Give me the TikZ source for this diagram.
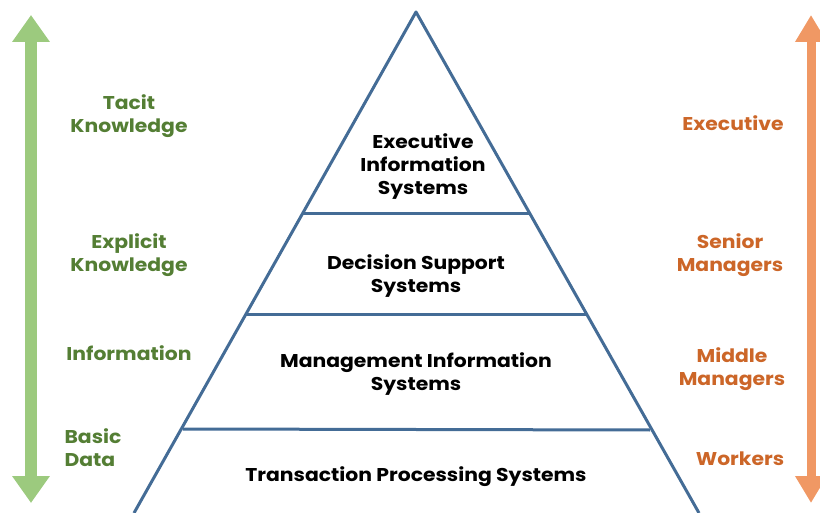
\documentclass[tikz,border=0pt]{standalone}
\usepackage{fontspec}
\setmainfont{Poppins}[FakeStretch=1.1]
\usetikzlibrary{arrows.meta}

\definecolor{edgeblue}{RGB}{68,108,150}
\definecolor{lightgreen}{RGB}{156,202,126}
\definecolor{darkgreen}{RGB}{84,126,52}
\definecolor{lightorange}{RGB}{240,152,100}
\definecolor{darkorange}{RGB}{204,102,40}

\tikzset{
    layer/.style={font=\fontsize{18.5}{23}\selectfont\bfseries, text=black, align=center},
    leftlabel/.style={font=\fontsize{18.5}{23}\selectfont\bfseries, text=darkgreen, align=center},
    rightlabel/.style={font=\fontsize{18.5}{23}\selectfont\bfseries, text=darkorange, align=center},
}

\begin{document}
\begin{tikzpicture}[x=1pt, y=-1pt]

        \useasboundingbox (0,0) rectangle (820,513);

        \coordinate (apex) at (416,12);
        \coordinate (bl) at (134,513);
        \coordinate (br) at (699,513);

        \coordinate (l1) at (302,214);
        \coordinate (r1) at (530,214);
        \coordinate (l2) at (245,315);
        \coordinate (r2) at (587,315);
        \coordinate (l3) at (183,429);
        \coordinate (r3) at (650,430);

        \draw[edgeblue, line width=3pt, line join=round] (bl) -- (apex) -- (br);
        \draw[edgeblue, line width=3pt] (l1) -- (r1);
        \draw[edgeblue, line width=3pt] (l2) -- (r2);
        \draw[edgeblue, line width=3pt] (l3) -- (r3);

        \coordinate (gtop) at (31,15);
        \coordinate (gbot) at (31,503);
        \coordinate (otop) at (811,15);
        \coordinate (obot) at (811,503);

        \draw[lightgreen, line width=12pt, {Triangle[width=36pt, length=27pt]}-{Triangle[width=36pt, length=27pt]}] (gtop) -- (gbot);
        \draw[lightorange, line width=9pt, {Triangle[width=30pt, length=27pt]}-{Triangle[width=30pt, length=27pt]}] (otop) -- (obot);

        \node[layer] (eis) at (423,167) {Executive\\Information\\Systems};
        \node[layer] (dss) at (416,276) {Decision Support\\Systems};
        \node[layer] (mis) at (416,374) {Management Information\\Systems};
        \node[layer] (tps) at (416,477) {Transaction Processing Systems};

        \node[leftlabel] (tacit) at (129,116) {Tacit\\Knowledge};
        \node[leftlabel] (explicit) at (129,255) {Explicit\\Knowledge};
        \node[leftlabel] (info) at (129,353) {Information};
        \node[leftlabel, align=left] (basic) at (93,448) {Basic\\Data};

        \node[rightlabel] (exec) at (733,123) {Executive};
        \node[rightlabel] (senior) at (730,255) {Senior\\Managers};
        \node[rightlabel] (middle) at (732,369) {Middle\\Managers};
        \node[rightlabel] (workers) at (740,459) {Workers};

    \end{tikzpicture}
\end{document}
